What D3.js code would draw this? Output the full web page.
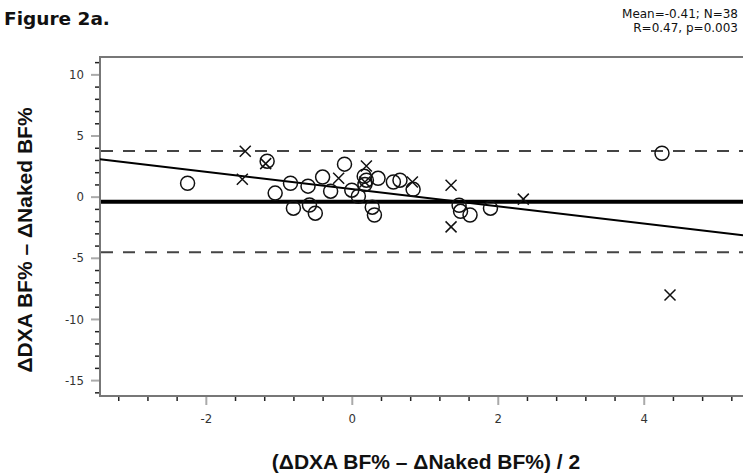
<!DOCTYPE html>
<html><head><meta charset="utf-8">
<script src="https://cdn.jsdelivr.net/npm/d3@7"></script>
<style>
body{margin:0;background:#fff;}
svg{display:block;}
</style></head>
<body><svg id="c" width="743" height="476"></svg>
<script>
// ---- data ----
const circleX = [-2.25,-1.16,-1.05,-0.84,-0.80,-0.60,-0.58,-0.50,-0.40,-0.29,-0.10,0.00,0.09,0.17,0.18,0.20,0.28,0.31,0.36,0.57,0.66,0.84,1.47,1.49,1.62,1.90,4.25];
const circleY = [1.1,2.9,0.29,1.1,-0.94,0.86,-0.69,-1.35,1.6,0.45,2.66,0.53,0.04,1.67,1.0,1.35,-0.86,-1.5,1.5,1.2,1.35,0.6,-0.7,-1.2,-1.5,-0.94,3.55];
const crossX = [-1.46,-1.50,-1.18,-0.18,0.20,0.83,1.36,1.36,2.35,4.36,0.18];
const crossY = [3.72,1.43,2.7,1.5,2.5,1.2,0.94,-2.47,-0.2,-8.04,1.2];
const meanDiff = -0.41;
const loaUpper = 3.73;
const loaLower = -4.55;
const regIntercept = 0.63;
const regSlope = -0.705;
const xMajor = [-2,0,2,4];
const xMinor = [-3.2,-2.8,-2.4,-1.6,-1.2,-0.8,-0.4,0.4,0.8,1.2,1.6,2.4,2.8,3.2,3.6,4.4,4.8,5.2];
const yMajor = [-15,-10,-5,0,5,10];
const yMinor = [-16,-14,-13,-12,-11,-9,-8,-7,-6,-4,-3,-2,-1,1,2,3,4,6,7,8,9,11];
const xDomain = [-3.45, 5.36];
const yDomain = [-16.3, 11.42];

const svg = d3.select('#c');
const L = 100, R = 743, T = 57, B = 396;
const x = d3.scaleLinear().domain(xDomain).range([L, R]);
const y = d3.scaleLinear().domain(yDomain).range([B, T]);

const labelFont = "'Liberation Sans Narrow','Arial Narrow','Liberation Sans',sans-serif";

// title
svg.append('text').attr('x',4).attr('y',25).text('Figure 2a.')
  .style('font-family',"'DejaVu Sans',sans-serif").style('font-weight','bold').style('font-size','18.5px').attr('fill','#111');
svg.append('text').attr('x',738).attr('y',18).attr('text-anchor','end').text('Mean=-0.41; N=38')
  .style('font-family',"'DejaVu Sans',sans-serif").style('font-size','12px').attr('fill','#111');
svg.append('text').attr('x',738).attr('y',32).attr('text-anchor','end').text('R=0.47, p=0.003')
  .style('font-family',"'DejaVu Sans',sans-serif").style('font-size','12px').attr('fill','#111');

// axes
function styleAxis(g, major){
  g.select('.domain').remove();
  g.selectAll('.tick line').attr('stroke', major ? '#aaa' : '#222').attr('stroke-width', major ? 2 : 1.5);
  g.selectAll('.tick text').attr('fill','#333').style('font-family',"'DejaVu Sans Condensed','DejaVu Sans',sans-serif").style('font-size','13px');
}
const gxMaj = svg.append('g').attr('transform',`translate(0,${B})`)
  .call(d3.axisBottom(x).tickValues(xMajor).tickSize(9).tickPadding(9).tickFormat(d3.format('d')));
styleAxis(gxMaj,true);
gxMaj.selectAll('.tick text').text(d => d < 0 ? '-' + Math.abs(d) : d);
const gxMin = svg.append('g').attr('transform',`translate(0,${B})`)
  .call(d3.axisBottom(x).tickValues(xMinor).tickSize(5).tickFormat(''));
styleAxis(gxMin,false);

const gyMaj = svg.append('g').attr('transform',`translate(${L},0)`)
  .call(d3.axisLeft(y).tickValues(yMajor).tickSize(9).tickPadding(7));
styleAxis(gyMaj,true);
gyMaj.selectAll('.tick text').text(d => d < 0 ? '-' + Math.abs(d) : d);
const gyMin = svg.append('g').attr('transform',`translate(${L},0)`)
  .call(d3.axisLeft(y).tickValues(yMinor).tickSize(5).tickFormat(''));
styleAxis(gyMin,false);

// frame (right side clipped off by window)
svg.append('path').attr('d',`M${R+30},${T}H${L}V${B}H${R+30}`)
  .attr('fill','none').attr('stroke','#777').attr('stroke-width',2);

// axis labels
svg.append('text').attr('x',426).attr('y',469).attr('text-anchor','middle')
  .text('(ΔDXA BF% – ΔNaked BF%) / 2')
  .style('font-family',labelFont).style('font-weight','bold').style('font-size','21px').attr('fill','#111');
svg.append('text').attr('transform','translate(32,240) rotate(-90)').attr('text-anchor','middle')
  .text('ΔDXA BF% – ΔNaked BF%')
  .style('font-family',labelFont).style('font-weight','bold').style('font-size','21px').attr('fill','#111');

const plot = svg.append('g');
// limits of agreement
[loaUpper, loaLower].forEach(v => {
  plot.append('line').attr('x1',L+1).attr('x2',R).attr('y1',y(v)).attr('y2',y(v))
    .attr('stroke','#444').attr('stroke-width',2).attr('stroke-dasharray','12,10');
});
// mean
plot.append('line').attr('x1',L+1).attr('x2',R).attr('y1',y(meanDiff)).attr('y2',y(meanDiff))
  .attr('stroke','#000').attr('stroke-width',4);
// regression
plot.append('line').attr('x1',x(xDomain[0])).attr('x2',x(xDomain[1]))
  .attr('y1',y(regIntercept + regSlope*xDomain[0])).attr('y2',y(regIntercept + regSlope*xDomain[1]))
  .attr('stroke','#000').attr('stroke-width',2);

// points
plot.selectAll('circle.pt').data(circleX.map((v,i)=>[v,circleY[i]])).join('circle')
  .attr('class','pt').attr('cx',d=>x(d[0])).attr('cy',d=>y(d[1])).attr('r',7)
  .attr('fill','none').attr('stroke','#111').attr('stroke-width',1.5);
const s = 5.5;
plot.selectAll('path.cx').data(crossX.map((v,i)=>[v,crossY[i]])).join('path')
  .attr('class','cx')
  .attr('d',d=>{const cx=x(d[0]),cy=y(d[1]);return `M${cx-s},${cy-s}L${cx+s},${cy+s}M${cx-s},${cy+s}L${cx+s},${cy-s}`;})
  .attr('fill','none').attr('stroke','#111').attr('stroke-width',1.5);
</script></body></html>
